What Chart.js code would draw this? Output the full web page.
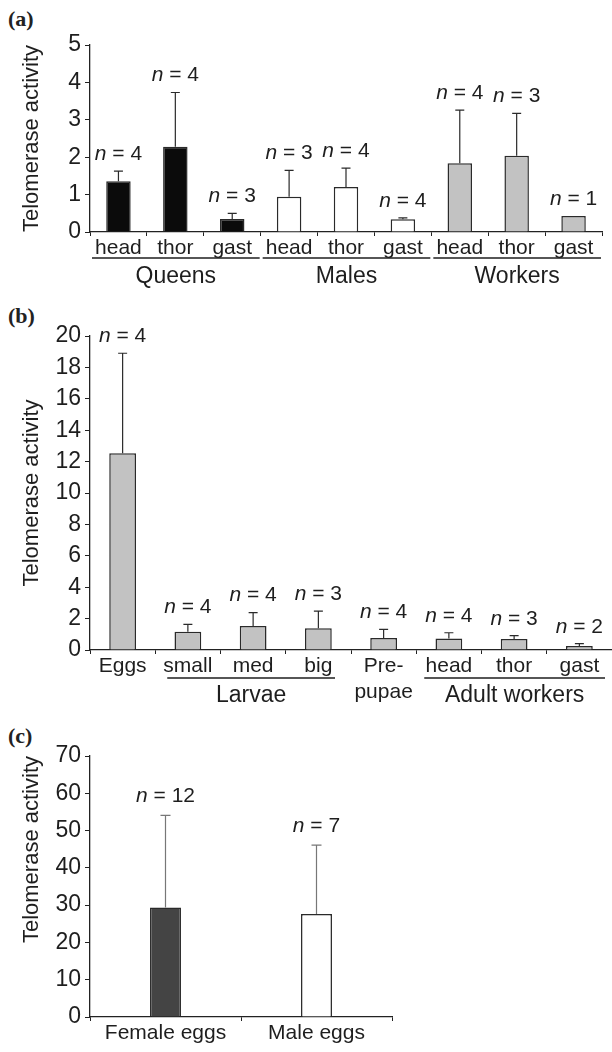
<!DOCTYPE html>
<html>
<head>
<meta charset="utf-8">
<script src="https://cdn.jsdelivr.net/npm/chart.js@4.4.1/dist/chart.umd.min.js"></script>
<style>
  body { margin: 0; background: #fff; width: 612px; height: 1052px; position: relative; overflow: hidden; }
  canvas { position: absolute; left: 0; }
  .tag { position: absolute; left: 8px; font: bold 22px "Liberation Serif", "Times New Roman", serif; color: #222; }
</style>
</head>
<body>
<div class="tag" style="top:6px">(a)</div>
<div class="tag" style="top:303px">(b)</div>
<div class="tag" style="top:723px">(c)</div>
<canvas id="chartA" width="612" height="295" style="top:0"></canvas>
<canvas id="chartB" width="612" height="410" style="top:300px"></canvas>
<canvas id="chartC" width="612" height="332" style="top:720px"></canvas>

<script>
// panel (a): adult body parts
const labelsA = ['head', 'thor', 'gast', 'head', 'thor', 'gast', 'head', 'thor', 'gast'];
const groupsA = ['Queens', 'Males', 'Workers'];
const meansA = [1.36, 2.28, 0.35, 0.94, 1.20, 0.34, 1.84, 2.04, 0.43];
const errA = [0.27, 1.45, 0.15, 0.71, 0.51, 0.04, 1.42, 1.13, 0];
const nA = [4, 4, 3, 3, 4, 4, 4, 3, 1];

// panel (b): developmental stages
const labelsB = ['Eggs', 'small', 'med', 'big', ['Pre-', 'pupae'], 'head', 'thor', 'gast'];
const groupsB = ['Larvae', 'Adult workers'];
const meansB = [12.53, 1.17, 1.53, 1.38, 0.76, 0.74, 0.70, 0.25];
const errB = [6.37, 0.46, 0.85, 1.10, 0.56, 0.36, 0.21, 0.15];
const nB = [4, 4, 4, 3, 4, 4, 3, 2];

// panel (c): eggs by sex
const labelsC = ['Female eggs', 'Male eggs'];
const meansC = [29.4, 27.6];
const errC = [24.7, 18.5];
const nC = [12, 7];

const FONT = '"Liberation Sans", Arial, Helvetica, sans-serif';
const INK = '#1e1e1e';

// upper error bars + "n = x" labels
const errorBars = {
  id: 'errorBars',
  afterDatasetsDraw(chart, args, opts) {
    const ctx = chart.ctx;
    const xs = chart.scales.x, ys = chart.scales.y;
    const vals = chart.data.datasets[0].data;
    ctx.save();
    vals.forEach((v, i) => {
      const px = xs.getPixelForValue(i);
      const e = opts.err[i];
      const top = ys.getPixelForValue(v + e);
      if (e > 0) {
        ctx.strokeStyle = opts.color;
        ctx.lineWidth = 1.2;
        ctx.beginPath();
        ctx.moveTo(px, ys.getPixelForValue(v));
        ctx.lineTo(px, top);
        ctx.moveTo(px - opts.cap / 2, top);
        ctx.lineTo(px + opts.cap / 2, top);
        ctx.stroke();
      }
      // n label, italic n
      const cy = top - opts.gap;
      ctx.fillStyle = INK;
      ctx.textBaseline = 'middle';
      ctx.textAlign = 'left';
      ctx.font = 'italic 21px ' + FONT;
      const w1 = ctx.measureText('n').width;
      ctx.font = '21px ' + FONT;
      const rest = ' = ' + opts.n[i];
      const w2 = ctx.measureText(rest).width;
      const x0 = px - (w1 + w2) / 2;
      ctx.font = 'italic 21px ' + FONT;
      ctx.fillText('n', x0, cy);
      ctx.font = '21px ' + FONT;
      ctx.fillText(rest, x0 + w1, cy);
    });
    ctx.restore();
  }
};

// group underlines and names under the x labels
const groupLabels = {
  id: 'groupLabels',
  afterDraw(chart, args, opts) {
    if (!opts.groups) return;
    const ctx = chart.ctx, xs = chart.scales.x;
    const half = (xs.getPixelForValue(1) - xs.getPixelForValue(0)) / 2;
    const base = chart.chartArea.bottom;
    ctx.save();
    opts.groups.forEach(g => {
      const x1 = xs.getPixelForValue(g.from) - half + g.inset[0];
      const x2 = xs.getPixelForValue(g.to) + half - g.inset[1];
      ctx.strokeStyle = INK;
      ctx.lineWidth = 1.3;
      ctx.beginPath();
      ctx.moveTo(x1, base + opts.lineY);
      ctx.lineTo(x2, base + opts.lineY);
      ctx.stroke();
      ctx.fillStyle = INK;
      ctx.font = '23px ' + FONT;
      ctx.textAlign = 'center';
      ctx.textBaseline = 'middle';
      ctx.fillText(g.name, (x1 + x2) / 2, base + opts.textY);
    });
    ctx.restore();
  }
};

function makePanel(id, p) {
  return new Chart(document.getElementById(id), {
    type: 'bar',
    data: {
      labels: p.labels,
      datasets: [{
        data: p.values,
        backgroundColor: p.fill,
        borderColor: '#2a2a2a',
        borderWidth: 1.5,
        borderSkipped: 'bottom',
        barPercentage: p.barPct,
        categoryPercentage: 1
      }]
    },
    options: {
      responsive: false,
      animation: false,
      layout: { padding: { top: p.top, right: p.right, left: 0, bottom: 0 } },
      plugins: {
        legend: { display: false },
        tooltip: { enabled: false },
        errorBars: { err: p.err, n: p.n, color: p.errColor, cap: p.cap, gap: p.gap },
        groupLabels: p.groups
      },
      scales: {
        x: {
          grid: { offset: true, drawOnChartArea: false, drawTicks: true, tickLength: 4, color: '#222' },
          border: { color: '#222', width: 1.3 },
          ticks: { color: INK, font: { family: FONT, size: 21, lineHeight: 1.2 }, padding: 0, maxRotation: 0, autoSkip: false },
          afterFit: s => { s.height = p.xHeight; }
        },
        y: {
          min: 0, max: p.max,
          grid: { drawOnChartArea: false, drawTicks: true, tickLength: 5, color: '#222' },
          border: { color: '#222', width: 1.3 },
          ticks: { stepSize: p.step, autoSkip: false, color: INK, font: { family: FONT, size: 23 }, padding: 4 },
          title: {
            display: true, text: 'Telomerase activity', color: INK, align: p.titleAlign,
            font: { family: FONT, size: 22 }, padding: { top: 19, bottom: 0 }
          },
          afterFit: s => { s.width = 90; }
        }
      }
    },
    plugins: [errorBars, groupLabels]
  });
}

makePanel('chartA', {
  labels: labelsA, values: meansA, err: errA, n: nA,
  fill: meansA.map((_, i) => ['#0b0b0b', '#ffffff', '#c2c2c2'][Math.floor(i / 3)]),
  barPct: 0.43, max: 5, step: 1, top: 45, right: 10, xHeight: 63,
  errColor: '#2a2a2a', cap: 9, gap: 17, titleAlign: 'center',
  groups: {
    lineY: 26, textY: 45,
    groups: groupsA.map((name, k) => ({ name, from: k * 3, to: k * 3 + 2, inset: [2, 1] }))
  }
});

makePanel('chartB', {
  labels: labelsB, values: meansB, err: errB, n: nB,
  fill: meansB.map(() => '#c2c2c2'),
  barPct: 0.41, max: 20, step: 2, top: 36, right: 0, xHeight: 60,
  errColor: '#2a2a2a', cap: 9, gap: 17, titleAlign: 'center',
  groups: {
    lineY: 28, textY: 46,
    groups: [
      { name: groupsB[0], from: 1, to: 3, inset: [12, 16] },
      { name: groupsB[1], from: 5, to: 7, inset: [8, 7] }
    ]
  }
});

makePanel('chartC', {
  labels: labelsC, values: meansC, err: errC, n: nC,
  fill: ['#444444', '#ffffff'],
  barPct: 0.205, max: 70, step: 10, top: 36, right: 220, xHeight: 35,
  errColor: '#777777', cap: 10, gap: 19, titleAlign: 'end',
  groups: {}
});
</script>
</body>
</html>
